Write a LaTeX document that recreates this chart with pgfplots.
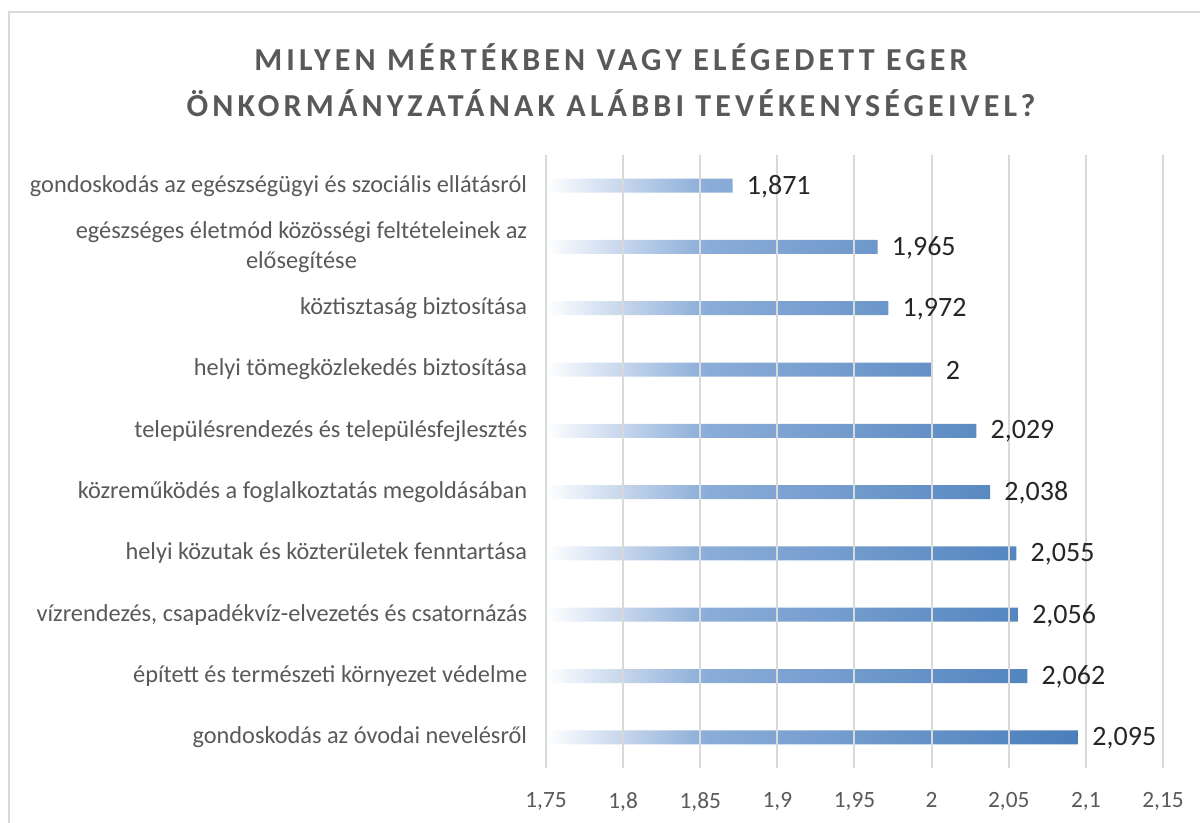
\documentclass[border=0pt]{standalone}
\usepackage{fontspec}
\setmainfont{Carlito}
\newfontfamily\titlefont{Carlito}[LetterSpace=13]
\usepackage{pgfplots}
\pgfplotsset{compat=1.18}
\usepackage{pgfplotstable}
\definecolor{txt}{HTML}{595959}
\definecolor{grd}{HTML}{D9D9D9}
\definecolor{vallab}{HTML}{262626}
\definecolor{c1}{HTML}{C3D4EB}
\definecolor{c2}{HTML}{8BADD8}
\definecolor{c3}{HTML}{4A7EBB}
\pgfdeclarehorizontalshading{barshade}{100bp}{color(0bp)=(white); color(25bp)=(white); color(32.5bp)=(c1); color(40bp)=(c2); color(75bp)=(c3); color(100bp)=(c3)}

\pgfplotstableread{
y v
1 1.871
2 1.965
3 1.972
4 2
5 2.029
6 2.038
7 2.055
8 2.056
9 2.062
10 2.095
}\data

\begin{document}
\begin{tikzpicture}
\path[use as bounding box] (-409.5pt,-41.25pt) rectangle (490.5pt,576pt);
\draw[grd, line width=1.5pt] (-402.75pt,-60pt) -- (-402.75pt,567pt) -- (510pt,567pt);
\begin{axis}[
  at={(0,0)}, anchor=south west,
  scale only axis, width=462.75pt, height=459.75pt,
  x coord trafo/.code={\pgfmathparse{#1-1.75}},
  x coord inv trafo/.code={\pgfmathparse{#1+1.75}},
  xmin=1.75, xmax=2.15,
  ymin=0.5, ymax=10.5, y dir=reverse,
  xtick={1.75,1.8,1.85,1.9,1.95,2,2.05,2.1,2.15},
  xticklabels={{1,75},{1,8},{1,85},{1,9},{1,95},{2},{2,05},{2,1},{2,15}},
  ytick={1,...,10},
  yticklabels={
    {gondoskodás az egészségügyi és szociális ellátásról},
    {egészséges életmód közösségi feltételeinek az\\elősegítése},
    {köztisztaság biztosítása},
    {helyi tömegközlekedés biztosítása},
    {településrendezés és településfejlesztés},
    {közreműködés a foglalkoztatás megoldásában},
    {helyi közutak és közterületek fenntartása},
    {vízrendezés, csapadékvíz-elvezetés és csatornázás},
    {épített és természeti környezet védelme},
    {gondoskodás az óvodai nevelésről}},
  axis line style={draw=none},
  major tick length=0pt,
  xmajorgrids,
  major grid style={grd, line width=1.5pt},
  axis on top,
  xticklabel style={font=\fontsize{17.5pt}{20pt}\selectfont, text=txt, inner sep=0pt, anchor=north},
  xticklabel shift=18pt,
  yticklabel style={font=\fontsize{18.25pt}{22.5pt}\selectfont, text=txt, inner sep=0pt, anchor=east, align=center},
  yticklabel shift=14pt,
  xbar, bar width=10.5pt,
  point meta=explicit,
  nodes near coords={\pgfmathprintnumber[use comma,fixed,precision=3,assume math mode=true]{\pgfplotspointmeta}},
  every node near coord/.append style={anchor=west, inner sep=0pt, xshift=10.5pt, yshift=-0.5pt, font=\fontsize{21pt}{25pt}\selectfont, text=vallab},
]
\addplot[draw=none, shade, shading=barshade] table[x=v, y=y, meta=v]{\data};
\end{axis}
\node[align=center, font=\fontsize{24pt}{34.5pt}\selectfont\titlefont\bfseries, text=txt] at (48.75pt,516pt) {MILYEN MÉRTÉKBEN VAGY ELÉGEDETT EGER\\ÖNKORMÁNYZATÁNAK ALÁBBI TEVÉKENYSÉGEIVEL?};
\end{tikzpicture}
\end{document}
